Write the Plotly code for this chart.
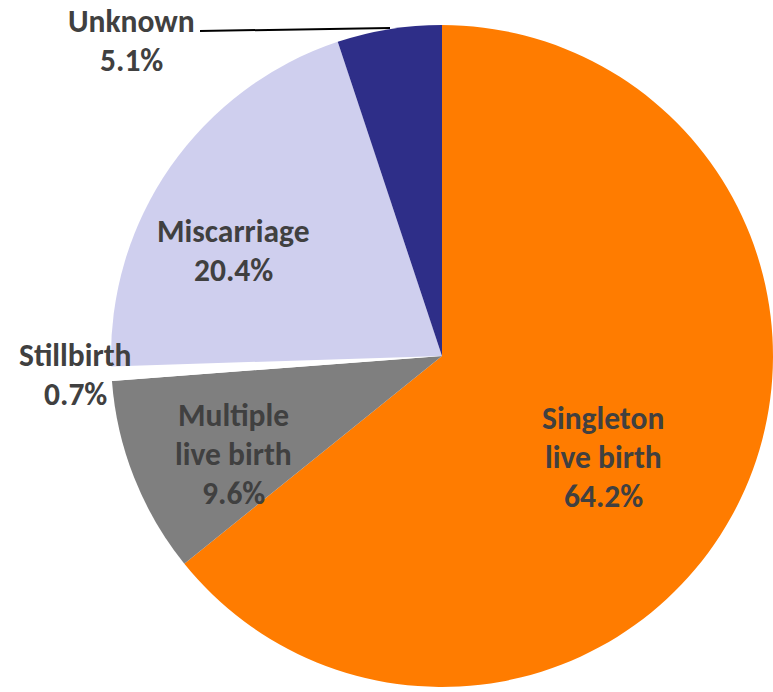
import plotly.graph_objects as go

labels = ["Singleton live birth", "Multiple live birth", "Stillbirth", "Miscarriage", "Unknown"]
values = [64.2, 9.6, 0.7, 20.4, 5.1]
colors = ["#FF7C00", "#7F7F7F", "#FFFFFF", "#CFCFEE", "#2E2E88"]

W, H = 773, 692


def px_x(x):
    return x / W


def px_y(y):
    return 1 - y / H


fig = go.Figure(go.Pie(
    labels=labels,
    values=values,
    sort=False,
    direction="clockwise",
    rotation=0,
    marker=dict(colors=colors, line=dict(color="#FFFFFF", width=0)),
    textinfo="none",
    hoverinfo="label+percent",
    domain=dict(x=[px_x(111), 1.0], y=[px_y(688), px_y(24)]),
    showlegend=False,
))

# label placements (pixel centers of the text block)
label_pos = {
    "Singleton live birth": (603, 457),
    "Multiple live birth": (233, 454),
    "Stillbirth": (75, 374),
    "Miscarriage": (234, 250),
    "Unknown": (131, 41),
}
LINE = 39

font = dict(family="Carlito, Lato, sans-serif", size=31.5, color="#404040", weight="bold")
for lab, val in zip(labels, values):
    cx, cy = label_pos[lab]
    lines = lab.replace(" live", "\nlive").split("\n") + [f"{val:.1f}%"]
    n = len(lines)
    for i, ln in enumerate(lines):
        ly = cy + (i - (n - 1) / 2) * LINE
        fig.add_annotation(
            x=px_x(cx), y=px_y(ly), xref="paper", yref="paper",
            text=ln, showarrow=False, font=font, align="center",
            xanchor="center", yanchor="middle",
        )

fig.add_shape(type="line", xref="paper", yref="paper",
              x0=px_x(200), y0=px_y(31), x1=px_x(390), y1=px_y(28),
              line=dict(color="#000000", width=2))

fig.update_layout(
    width=W, height=H,
    margin=dict(l=0, r=0, t=0, b=0),
    paper_bgcolor="#FFFFFF",
    plot_bgcolor="#FFFFFF",
)

fig.write_html(
    "out.html",
    config={"displayModeBar": False},
    post_script="document.body.style.margin='0';document.body.style.overflow='hidden';",
)
